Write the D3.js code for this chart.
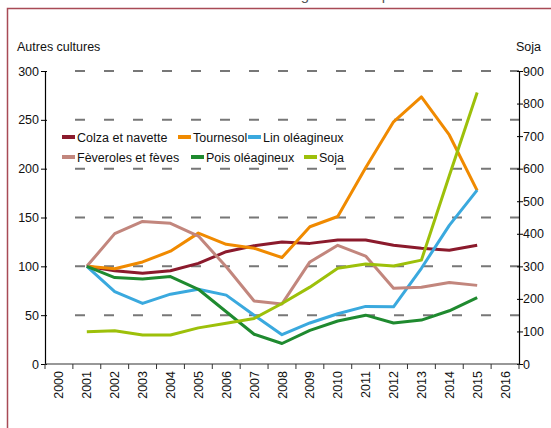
<!DOCTYPE html>
<html>
<head>
<meta charset="utf-8">
<script src="https://cdn.jsdelivr.net/npm/d3@7"></script>
<style>
  body { margin: 0; background: #fff; }
  text { font-family: "Liberation Sans", Arial, sans-serif; fill: #111; }
</style>
</head>
<body>
<svg id="chart" width="551" height="428"></svg>
<script>
// categories on the x axis (2000 and 2016 are empty slots)
var years = ["2000","2001","2002","2003","2004","2005","2006","2007","2008","2009","2010","2011","2012","2013","2014","2015","2016"];
var dataYears = ["2001","2002","2003","2004","2005","2006","2007","2008","2009","2010","2011","2012","2013","2014","2015"];

// index values (2001 = 100), left axis
var colza      = [100, 95.5, 92.8, 95.5, 103, 115, 121, 125, 123.5, 127, 127, 121.5, 118.5, 116.5, 121.5];
var tournesol  = [100, 97.5, 104.5, 115.5, 134, 122.5, 118.5, 109, 140.5, 151, 201, 248, 273.5, 234.5, 177.5];
var lin        = [100, 74, 62, 71.5, 76.5, 70.5, 50, 30, 42, 51.5, 59, 58.5, 98, 142, 178];
var feveroles  = [100, 133.5, 146, 144, 131, 99.5, 64.5, 61.5, 104.5, 121.5, 110.5, 77.5, 78.5, 83.5, 80.5];
var pois       = [100, 88.5, 87, 89.5, 76.5, 53.5, 30.5, 21, 34.5, 44, 50, 42, 45, 54.5, 68];
// soja, right axis
var soja       = [99, 102, 89, 89, 111, 125, 140, 186, 236, 294, 307, 301, 319, 578, 834];

var leftTicks = [0, 50, 100, 150, 200, 250, 300];
var rightTicks = [0, 100, 200, 300, 400, 500, 600, 700, 800, 900];

var series = [
  { name: "Colza et navette", values: colza, color: "#8b1a2c", axis: "left" },
  { name: "Tournesol", values: tournesol, color: "#f08a00", axis: "left" },
  { name: "Lin oléagineux", values: lin, color: "#3aa9de", axis: "left" },
  { name: "Fèveroles et fèves", values: feveroles, color: "#c2867d", axis: "left" },
  { name: "Pois oléagineux", values: pois, color: "#1f8a2f", axis: "left" },
  { name: "Soja", values: soja, color: "#9dc00a", axis: "right" }
];

var svg = d3.select("#chart");
var plotL = 45, plotR = 519, plotT = 71, plotB = 364;

var x = d3.scaleBand().domain(years).range([plotL, plotR]);
var yL = d3.scaleLinear().domain([0, 300]).range([plotB, plotT]);
var yR = d3.scaleLinear().domain([0, 900]).range([plotB, plotT]);

// frame around the figure
svg.append("path")
  .attr("d", "M7.5,428 L7.5,8.5 L551,8.5")
  .attr("fill", "none")
  .attr("stroke", "#a84a56")
  .attr("stroke-width", 1.5);

// clipped title above the frame
svg.append("text")
  .attr("x", 282).attr("y", 0)
  .attr("text-anchor", "middle")
  .style("font-size", "15px")
  .style("fill", "#555")
  .text("Évolution des surfaces oléagineuses depuis 2001");

// gridlines
svg.append("g").selectAll("line")
  .data(leftTicks.filter(function (d) { return d > 0; }))
  .enter().append("line")
  .attr("x1", 75).attr("x2", plotR)
  .attr("y1", function (d) { return yL(d); })
  .attr("y2", function (d) { return yL(d); })
  .attr("stroke", "#777")
  .attr("stroke-width", 2)
  .attr("stroke-dasharray", "10 19");

// left axis
var gL = svg.append("g").attr("transform", "translate(" + plotL + ",0)")
  .call(d3.axisLeft(yL).tickValues(leftTicks).tickSize(0).tickPadding(6));
gL.select(".domain").attr("stroke", "#000").attr("stroke-width", 1.2);
gL.selectAll(".tick line").attr("x1", -4).attr("x2", 2).attr("stroke", "#000");
gL.selectAll("text").style("font-size", "12.5px").attr("fill", "#111");

// right axis
var gR = svg.append("g").attr("transform", "translate(" + plotR + ",0)")
  .call(d3.axisRight(yR).tickValues(rightTicks).tickSize(0).tickPadding(4));
gR.select(".domain").attr("stroke", "#000").attr("stroke-width", 1.2);
gR.selectAll(".tick line").attr("x1", -2).attr("x2", 4).attr("stroke", "#000");
gR.selectAll("text").style("font-size", "12.5px").attr("fill", "#111");

// bottom axis, ticks on band edges
var gX = svg.append("g").attr("transform", "translate(0," + plotB + ")");
gX.append("line").attr("x1", plotL).attr("x2", plotR).attr("stroke", "#333").attr("stroke-width", 1.2);
gX.selectAll(".edge").data(years.concat(["end"])).enter().append("line")
  .attr("class", "edge")
  .attr("x1", function (d, i) { return plotL + i * x.bandwidth(); })
  .attr("x2", function (d, i) { return plotL + i * x.bandwidth(); })
  .attr("y1", 0).attr("y2", 5)
  .attr("stroke", "#333");
gX.selectAll(".yl").data(years).enter().append("text")
  .attr("class", "yl")
  .attr("transform", function (d) {
    return "translate(" + (x(d) + x.bandwidth() / 2 + 4.5) + ",7) rotate(-90)";
  })
  .attr("text-anchor", "end")
  .style("font-size", "12.5px")
  .text(function (d) { return d; });

// axis titles
svg.append("text").attr("x", 17).attr("y", 51).style("font-size", "12.5px").text("Autres cultures");
svg.append("text").attr("x", 541).attr("y", 51).attr("text-anchor", "end").style("font-size", "12.5px").text("Soja");

// lines
series.forEach(function (s) {
  var ys = s.axis === "left" ? yL : yR;
  var line = d3.line()
    .x(function (d, i) { return x(dataYears[i]) + x.bandwidth() / 2; })
    .y(function (d) { return ys(d); });
  svg.append("path")
    .datum(s.values)
    .attr("d", line)
    .attr("fill", "none")
    .attr("stroke", s.color)
    .attr("stroke-width", 3)
    .attr("stroke-linejoin", "round");
});

// legend
var legendPos = [[62, 137], [178, 137], [248, 137], [62, 157], [191, 157], [304, 157]];
var lg = svg.append("g").selectAll("g").data(series).enter().append("g")
  .attr("transform", function (d, i) { return "translate(" + legendPos[i][0] + "," + legendPos[i][1] + ")"; });
lg.append("rect").attr("x", 0).attr("y", -2).attr("width", 13).attr("height", 4)
  .attr("fill", function (d) { return d.color; });
lg.append("text").attr("x", 15).attr("y", 4.5).style("font-size", "12.5px")
  .text(function (d) { return d.name; });
</script>
</body>
</html>
